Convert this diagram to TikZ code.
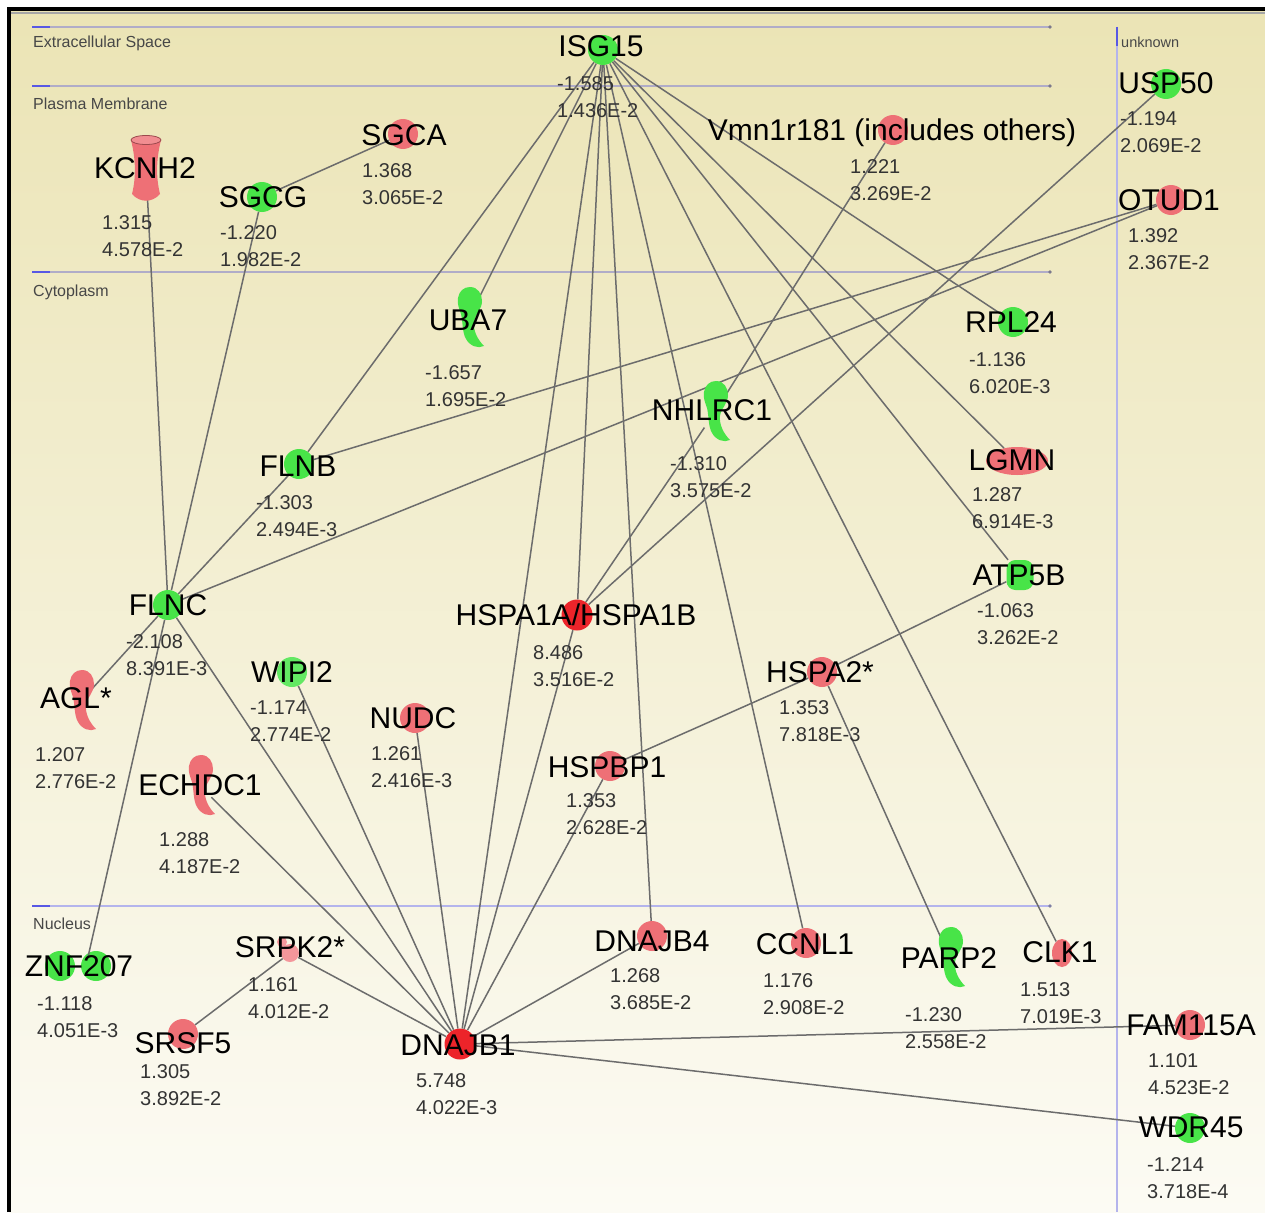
\documentclass[tikz,border=0pt]{standalone}
\usepackage{fontspec}
\setmainfont{Liberation Sans}
\usetikzlibrary{shapes.geometric}
\definecolor{gn}{RGB}{72,228,72}
\definecolor{pk}{RGB}{238,112,118}
\definecolor{pkl}{RGB}{244,150,155}
\definecolor{rd}{RGB}{236,36,42}
\definecolor{edgec}{RGB}{108,108,108}
\definecolor{cline}{RGB}{176,172,200}
\definecolor{nline}{RGB}{180,180,236}
\definecolor{cblue}{RGB}{88,88,228}
\definecolor{bgtop}{RGB}{235,228,181}
\definecolor{bgbot}{RGB}{252,251,244}
\newcommand\gtext[7]{%
  \node[gname] (#1lab) at (#2) {#3};
  \node[gval] (#1v1) at (#4,#5) {#6};
  \node[gval] (#1v2) at (#4,#5+27) {#7};}
\newcommand\ipahook[3]{\fill[#3,shift={(#1,#2)}] (1,-31) .. controls (9,-31) and (13,-24) .. (13,-17) .. controls (13,-8) and (6,-4) .. (5,4) .. controls (4,13) and (9,22) .. (15,28) .. controls (9,31) and (1,28) .. (-3,21) .. controls (-7,14) and (-6,4) .. (-8,-4) .. controls (-10,-10) and (-12,-14) .. (-11,-20) .. controls (-10,-27) and (-5,-31) .. (1,-31) -- cycle;}
\begin{document}
\begin{tikzpicture}[x=1pt,y=-1pt,
  gc/.style={circle,fill=gn,minimum size=30pt,inner sep=0pt},
  pc/.style={circle,fill=pk,minimum size=30pt,inner sep=0pt},
  rc/.style={circle,fill=rd,minimum size=31pt,inner sep=0pt},
  hk/.style={ellipse,minimum width=24pt,minimum height=62pt,inner sep=0pt},
  edge/.style={draw=edgec,line width=1.5pt},
  gname/.style={font=\fontsize{30}{30}\selectfont,text height=21.5pt,text depth=0pt,inner sep=0pt,anchor=center},
  gval/.style={font=\fontsize{20}{20}\selectfont,text=black!80,text height=14.3pt,text depth=0pt,inner sep=0pt,anchor=west},
  comp/.style={font=\fontsize{16}{16}\selectfont,text=black!72,anchor=west,inner sep=0pt,text height=11.5pt,text depth=0pt}
]
\useasboundingbox (0,0) rectangle (1265,1212);
\fill[white] (0,0) rectangle (1265,1212);
\shade[top color=bgtop,bottom color=bgbot] (9,9) rectangle (1265,1212);
\draw[black!35,line width=2pt] (11,13) -- (1265,13);
\draw[black,line width=3.5pt] (9,1212) -- (9,9) -- (1265,9);

% compartments
\foreach \yy in {27,86,272} {
  \draw[cline,line width=1.8pt] (32,\yy) -- (1050,\yy);
  \fill[cline!70!black] (1050,\yy) circle (1.8pt);
  \draw[cblue,line width=2.6pt] (32,\yy) -- (50,\yy);
}
\draw[nline,line width=1.6pt] (32,906) -- (1050,906);
\fill[nline!70!black] (1050,906) circle (1.8pt);
\draw[cblue,line width=2.6pt] (32,906) -- (50,906);
\draw[nline,line width=1.6pt] (1117,27) -- (1117,1212);
\draw[cblue,line width=2.6pt] (1117,27) -- (1117,46);
\node[comp] (cExt) at (33,42) {Extracellular Space};
\node[comp] (cPM) at (33,104) {Plasma Membrane};
\node[comp] (cCyt) at (33,291) {Cytoplasm};
\node[comp] (cNuc) at (33,924) {Nucleus};
\node[comp,font=\fontsize{14.5}{15}\selectfont] (cUnk) at (1121,42) {unknown};

% shape nodes
\node[gc] (isg) at (603,50) {};
\node[pc] (vmn) at (893,130) {};
\node[gc] (usp) at (1166,84) {};
\node[pc] (otud) at (1171,200) {};
\node[pc] (sgca) at (403,134) {};
\node[rectangle,minimum width=30pt,minimum height=64pt,inner sep=0pt] (kcnh) at (146,168) {};
\node[gc] (sgcg) at (262,197) {};
\node[hk] (uba) at (469,318) {};
\node[gc] (rpl) at (1013,322) {};
\node[hk] (nhl) at (715,412) {};
\node[gc] (flnb) at (299,464) {};
\node[ellipse,fill=pk,minimum width=62pt,minimum height=28pt,inner sep=0pt] (lgmn) at (1017,461) {};
\node[rectangle,rounded corners=9pt,fill=gn,minimum width=27pt,minimum height=30pt,inner sep=0pt] (atp) at (1020,575) {};
\node[gc] (flnc) at (168,605) {};
\node[rc] (hspa1) at (577,615) {};
\node[hk] (agl) at (81,701) {};
\node[gc,fill=gn!85!white] (wipi) at (292,672) {};
\node[pc] (nudc) at (415,718) {};
\node[pc] (hspa2) at (822,672) {};
\node[hk] (echd) at (200,786) {};
\node[pc] (hspbp) at (610,766) {};
\node[gc] (znfa) at (60,966) {};
\node[gc] (znfb) at (96,966) {};
\coordinate (znf) at (88,957);
\node[circle,fill=pkl,minimum size=18pt,inner sep=0pt] (srpk) at (290,953) {};
\fill[pkl] (282,942) circle (5pt);
\node[pc] (srsf) at (183,1034) {};
\node[rc] (dnajb1) at (460,1044) {};
\node[pc] (dnajb4) at (652,936) {};
\node[pc] (ccnl) at (806,943) {};
\node[hk] (parp) at (950,958) {};
\node[ellipse,fill=pk,minimum width=20pt,minimum height=28pt,inner sep=0pt] (clk) at (1062,953) {};
\node[pc] (fam) at (1190,1025) {};
\node[gc] (wdr) at (1190,1128) {};

% edges
\draw[edge] (sgca) -- (sgcg);
\draw[edge] (sgcg) -- (flnc);
\draw[edge] (kcnh) -- (flnc);
\draw[edge] (flnb) -- (flnc);
\draw[edge] (flnc) -- (otud);
\draw[edge] (flnb) -- (otud);
\draw[edge] (flnb) -- (isg);
\draw[edge] (isg) -- (uba);
\draw[edge] (isg) -- (dnajb1);
\draw[edge] (isg) -- (hspa1);
\draw[edge] (isg) -- (dnajb4);
\draw[edge] (isg) -- (ccnl);
\draw[edge] (isg) -- (clk);
\draw[edge] (isg) -- (atp);
\draw[edge] (isg) -- (lgmn);
\draw[edge] (isg) -- (rpl);
\draw[edge] (vmn) -- (nhl);
\draw[edge] (nhl) -- (hspa1);
\draw[edge] (usp) -- (hspa1);
\draw[edge] (flnc) -- (agl);
\draw[edge] (flnc) -- (znf);
\draw[edge] (flnc) -- (dnajb1);
\draw[edge] (wipi) -- (dnajb1);
\draw[edge] (nudc) -- (dnajb1);
\draw[edge] (echd) -- (dnajb1);
\draw[edge] (srpk) -- (dnajb1);
\draw[edge] (srpk) -- (srsf);
\draw[edge] (hspa1) -- (dnajb1);
\draw[edge] (hspbp) -- (dnajb1);
\draw[edge] (hspbp) -- (hspa2);
\draw[edge] (hspa2) -- (atp);
\draw[edge] (hspa2) -- (parp);
\draw[edge] (dnajb4) -- (dnajb1);
\draw[edge] (dnajb1) -- (fam);
\draw[edge] (dnajb1) -- (wdr);

% special shapes
\ipahook{469}{318}{gn}
\ipahook{715}{412}{gn}
\ipahook{81}{701}{pk}
\ipahook{200}{786}{pk}
\ipahook{950}{958}{gn}
\fill[pk] (131,140) .. controls (136,160) and (136,178) .. (132,194) .. controls (140,203) and (152,203) .. (160,194) .. controls (156,178) and (156,160) .. (161,140) -- cycle;
\filldraw[fill=pk!80!white,draw=pk!65!black,line width=0.8pt] (146,140) ellipse [x radius=15pt,y radius=4.5pt];

% texts
\gtext{isg}{601,46}{ISG15}{557}{83}{-1.585}{1.436E-2}
\gtext{vmn}{892,130}{Vmn1r181 (includes others)}{850}{166}{1.221}{3.269E-2}
\gtext{usp}{1166,83}{USP50}{1120}{118}{-1.194}{2.069E-2}
\gtext{otud}{1169,200}{OTUD1}{1128}{235}{1.392}{2.367E-2}
\gtext{sgca}{404,135}{SGCA}{362}{170}{1.368}{3.065E-2}
\gtext{kcnh}{145,168}{KCNH2}{102}{222}{1.315}{4.578E-2}
\gtext{sgcg}{263,197}{SGCG}{220}{232}{-1.220}{1.982E-2}
\gtext{uba}{468,320}{UBA7}{425}{372}{-1.657}{1.695E-2}
\gtext{rpl}{1011,322}{RPL24}{969}{359}{-1.136}{6.020E-3}
\gtext{nhl}{712,410}{NHLRC1}{670}{463}{-1.310}{3.575E-2}
\gtext{flnb}{298,466}{FLNB}{256}{502}{-1.303}{2.494E-3}
\gtext{lgmn}{1012,460}{LGMN}{972}{494}{1.287}{6.914E-3}
\gtext{atp}{1019,575}{ATP5B}{977}{610}{-1.063}{3.262E-2}
\gtext{flnc}{168,605}{FLNC}{126}{641}{-2.108}{8.391E-3}
\gtext{hspa1}{576,615}{HSPA1A/HSPA1B}{533}{652}{8.486}{3.516E-2}
\gtext{agl}{76,698}{AGL*}{35}{754}{1.207}{2.776E-2}
\gtext{wipi}{292,672}{WIPI2}{250}{707}{-1.174}{2.774E-2}
\gtext{nudc}{413,718}{NUDC}{371}{753}{1.261}{2.416E-3}
\gtext{hspa2}{820,672}{HSPA2*}{779}{707}{1.353}{7.818E-3}
\gtext{echd}{200,785}{ECHDC1}{159}{839}{1.288}{4.187E-2}
\gtext{hspbp}{607,767}{HSPBP1}{566}{800}{1.353}{2.628E-2}
\gtext{znf}{79,966}{ZNF207}{37}{1003}{-1.118}{4.051E-3}
\gtext{srpk}{290,947}{SRPK2*}{248}{984}{1.161}{4.012E-2}
\gtext{srsf}{183,1043}{SRSF5}{140}{1071}{1.305}{3.892E-2}
\gtext{dnajb1}{458,1045}{DNAJB1}{416}{1080}{5.748}{4.022E-3}
\gtext{dnajb4}{652,941}{DNAJB4}{610}{975}{1.268}{3.685E-2}
\gtext{ccnl}{805,944}{CCNL1}{763}{980}{1.176}{2.908E-2}
\gtext{parp}{949,958}{PARP2}{905}{1014}{-1.230}{2.558E-2}
\gtext{clk}{1060,952}{CLK1}{1020}{989}{1.513}{7.019E-3}
\gtext{fam}{1191,1025}{FAM115A}{1148}{1060}{1.101}{4.523E-2}
\gtext{wdr}{1191,1127}{WDR45}{1147}{1164}{-1.214}{3.718E-4}
\end{tikzpicture}
\end{document}
